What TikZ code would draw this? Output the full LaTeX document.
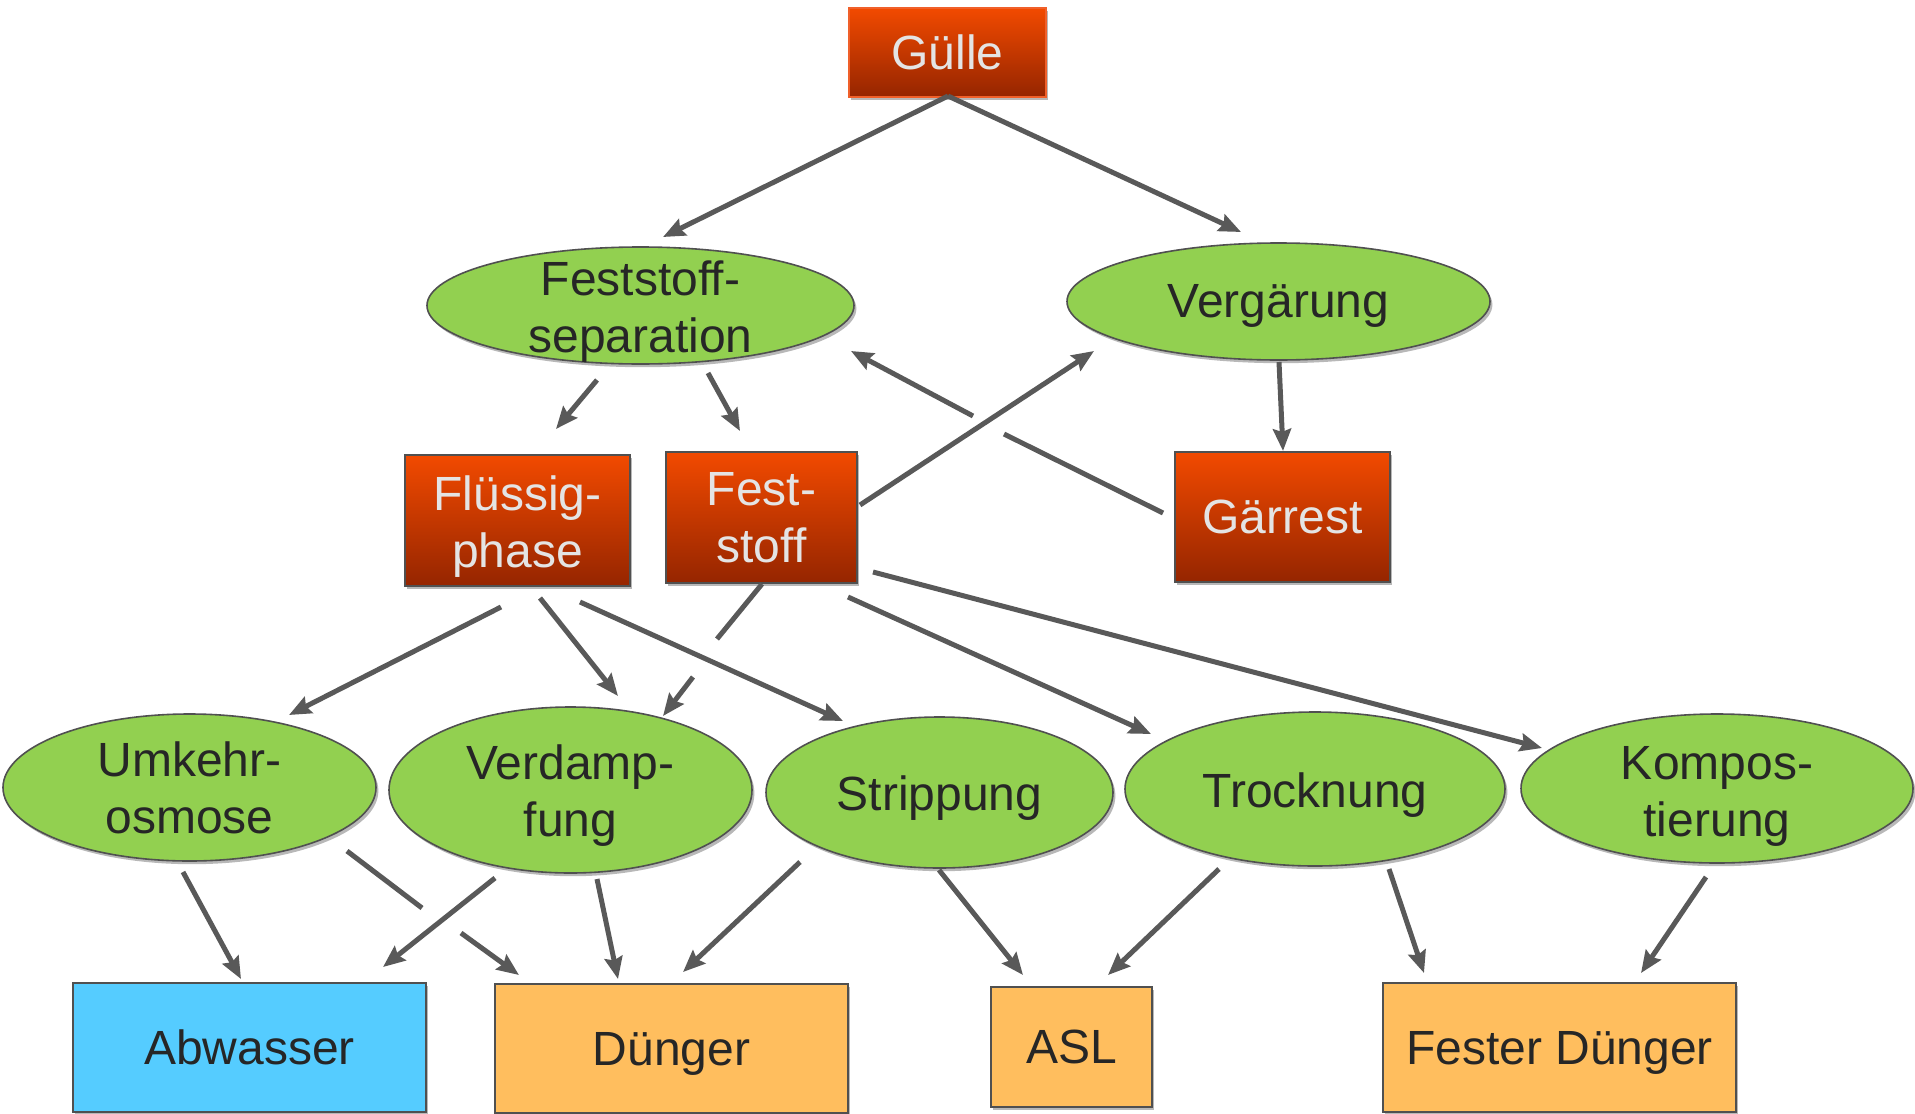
\documentclass[tikz,border=0pt]{standalone}
\usepackage{fontspec}
\setmainfont{Liberation Sans}
\usetikzlibrary{shapes.geometric,arrows.meta,shadows}
\definecolor{redtop}{HTML}{F24A00}
\definecolor{redbot}{HTML}{952500}
\definecolor{gborder}{HTML}{F0602A}
\definecolor{grn}{HTML}{92D050}
\definecolor{org}{HTML}{FFBE5E}
\definecolor{blu}{HTML}{55CCFF}
\definecolor{arr}{HTML}{595959}
\definecolor{txtd}{HTML}{262626}
\definecolor{txtl}{HTML}{E4E4E4}
\definecolor{edge}{HTML}{505050}
\begin{document}
\begin{tikzpicture}[x=0.5pt,y=-0.5pt,
  shd/.style={drop shadow={shadow xshift=1.2pt,shadow yshift=-1.6pt,opacity=0.28,fill=black}},
  bigfont/.style={font=\fontsize{24}{28.5}\selectfont},
  redbox/.style={rectangle, draw=edge, line width=0.8pt, top color=redtop, bottom color=redbot,
     text=txtl, shd, inner sep=0pt, outer sep=0pt, align=center, bigfont},
  flatbox/.style={rectangle, draw=edge, line width=0.8pt, text=txtd, shd, inner sep=0pt,
     outer sep=0pt, align=center, bigfont, text depth=0pt},
  ell/.style={ellipse, draw=edge, line width=0.8pt, fill=grn, shd, inner sep=0pt, outer sep=0pt},
  dtext/.style={text=txtd, align=center, inner sep=0pt, bigfont},
  ltext/.style={text=txtl, align=center, inner sep=0pt, bigfont},
  conn/.style={draw=arr, line width=2.5pt, -{Stealth[length=11pt,width=9pt,inset=1.5pt]}},
  connseg/.style={draw=arr, line width=2.5pt}
]
\useasboundingbox (0,0) rectangle (1915,1113);
\fill[white] (0,0) rectangle (1915,1113);

% top
\node[redbox, draw=gborder, minimum width=98.5pt, minimum height=44.5pt, text depth=0pt] (guelle) at (947.5,52.5) {Gülle};

% second row ellipses
\node[ell, minimum width=213.5pt, minimum height=58.5pt] (fs) at (640.5,305.5) {};
\node[dtext] (fst) at (640.5,312) {Feststoff-\\separation};
\node[ell, minimum width=211.5pt, minimum height=58.5pt] (verg) at (1278.5,301.5) {};
\node[dtext] (vergt) at (1278.5,306) {Vergärung};

% red boxes
\node[redbox, minimum width=112.5pt, minimum height=65.5pt] (fl) at (517.5,520.5) {};
\node[ltext] (flt) at (517.5,527) {Flüssig-\\phase};
\node[redbox, minimum width=95.5pt, minimum height=65.5pt] (fest) at (761.5,517.5) {Fest-\\stoff};
\node[redbox, minimum width=107.5pt, minimum height=65pt, text depth=0pt] (gaer) at (1282.5,517) {Gärrest};

% third row ellipses
\node[ell, minimum width=186.5pt, minimum height=73.5pt] (umk) at (189.5,787.5) {};
\node[dtext] (umkt) at (189.5,788) {Umkehr-\\osmose};
\node[ell, minimum width=181.5pt, minimum height=83pt] (verd) at (570.5,790) {};
\node[dtext] (verdt) at (570.5,796) {Verdamp-\\fung};
\node[ell, minimum width=173.5pt, minimum height=75.5pt] (strip) at (939.5,792.5) {};
\node[dtext] (stript) at (939.5,798) {Strippung};
\node[ell, minimum width=190pt, minimum height=77pt] (trock) at (1315,789) {};
\node[dtext] (trockt) at (1315,795) {Trocknung};
\node[ell, minimum width=196pt, minimum height=74.5pt] (komp) at (1717,788.5) {};
\node[dtext] (kompt) at (1717,796) {Kompos-\\tierung};

% bottom boxes
\node[flatbox, fill=blu, minimum width=176.5pt, minimum height=64.5pt] (abw) at (249.5,1047.5) {Abwasser};
\node[flatbox, fill=org, minimum width=176.5pt, minimum height=64.5pt] (duen) at (671.5,1048.5) {Dünger};
\node[flatbox, fill=org, minimum width=80.5pt, minimum height=60pt] (asl) at (1071.5,1047) {ASL};
\node[flatbox, fill=org, minimum width=176.5pt, minimum height=64.5pt] (fd) at (1559.5,1047.5) {Fester Dünger};

% connector end points
\coordinate (g0) at (948,96);
\coordinate (g1) at (663,237);
\coordinate (g2) at (1241,232);
\coordinate (s1a) at (597,380); \coordinate (s1b) at (556,429);
\coordinate (s2a) at (708,373); \coordinate (s2b) at (740,431);
\coordinate (r1a) at (1163,513); \coordinate (r1b) at (1004,434);
\coordinate (r1c) at (973,416); \coordinate (r1d) at (851,351);
\coordinate (f1a) at (860,505); \coordinate (f1b) at (1094,351);
\coordinate (v1a) at (1279,362); \coordinate (v1b) at (1283,451);
\coordinate (l1a) at (501,607); \coordinate (l1b) at (289,715);
\coordinate (l2a) at (540,598); \coordinate (l2b) at (618,696);
\coordinate (l3a) at (580,602); \coordinate (l3b) at (843,721);
\coordinate (f2a) at (762,584); \coordinate (f2b) at (717,639);
\coordinate (f2c) at (693,677); \coordinate (f2d) at (663,716);
\coordinate (f3a) at (848,597); \coordinate (f3b) at (1151,734);
\coordinate (f4a) at (873,572); \coordinate (f4b) at (1542,748);
\coordinate (u1a) at (183,872); \coordinate (u1b) at (241,979);
\coordinate (u2a) at (347,851); \coordinate (u2b) at (422,908);
\coordinate (u2c) at (461,933); \coordinate (u2d) at (519,975);
\coordinate (d1a) at (495,878); \coordinate (d1b) at (383,967);
\coordinate (d2a) at (597,879); \coordinate (d2b) at (618,979);
\coordinate (p1a) at (800,862); \coordinate (p1b) at (683,972);
\coordinate (p2a) at (939,870); \coordinate (p2b) at (1023,975);
\coordinate (t1a) at (1219,869); \coordinate (t1b) at (1108,975);
\coordinate (t2a) at (1389,869); \coordinate (t2b) at (1424,973);
\coordinate (k1a) at (1706,877); \coordinate (k1b) at (1641,973);

% connectors
\draw[conn] (g0) -- (g1);
\draw[conn] (g0) -- (g2);
\draw[conn] (s1a) -- (s1b);
\draw[conn] (s2a) -- (s2b);
\draw[connseg] (r1a) -- (r1b);
\draw[conn] (r1c) -- (r1d);
\draw[conn] (f1a) -- (f1b);
\draw[conn] (v1a) -- (v1b);
\draw[conn] (l1a) -- (l1b);
\draw[conn] (l2a) -- (l2b);
\draw[conn] (l3a) -- (l3b);
\draw[connseg] (f2a) -- (f2b);
\draw[conn] (f2c) -- (f2d);
\draw[conn] (f3a) -- (f3b);
\draw[conn] (f4a) -- (f4b);
\draw[conn] (u1a) -- (u1b);
\draw[connseg] (u2a) -- (u2b);
\draw[conn] (u2c) -- (u2d);
\draw[conn] (d1a) -- (d1b);
\draw[conn] (d2a) -- (d2b);
\draw[conn] (p1a) -- (p1b);
\draw[conn] (p2a) -- (p2b);
\draw[conn] (t1a) -- (t1b);
\draw[conn] (t2a) -- (t2b);
\draw[conn] (k1a) -- (k1b);
\end{tikzpicture}
\end{document}
